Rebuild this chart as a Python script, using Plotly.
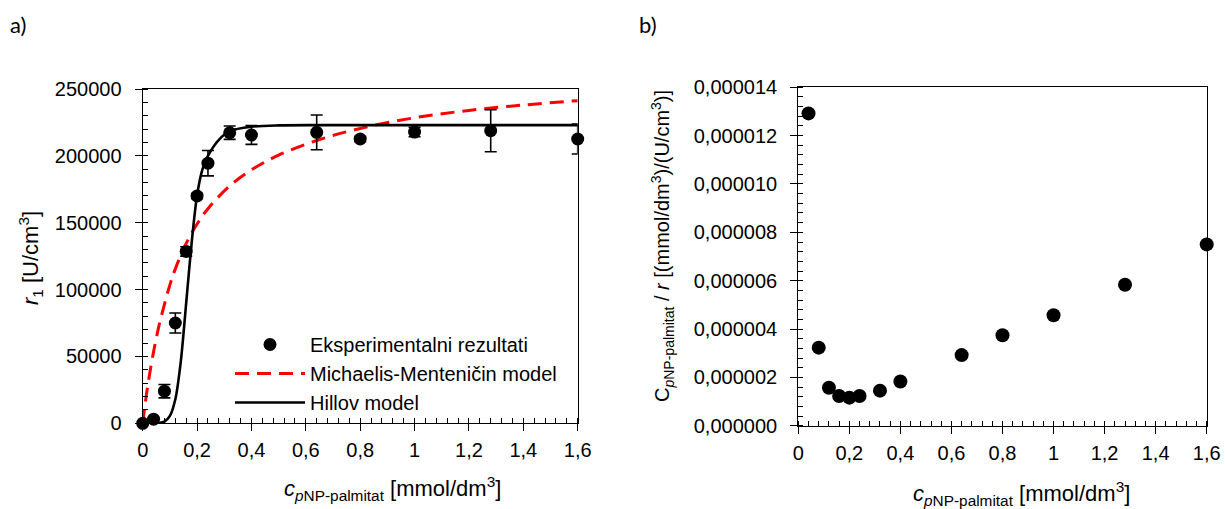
import plotly.graph_objects as go

# ---- data ----
c_exp = [0, 0.04, 0.08, 0.12, 0.16, 0.20, 0.24, 0.32, 0.40, 0.64, 0.80, 1.00, 1.28, 1.60]
r_exp = [0, 3100, 24000, 75000, 128500, 170000, 194500, 217300, 215600, 217600, 212600, 217800, 218800, 212600]
r_err = [0, 0, 5000, 7500, 3500, 2000, 9500, 5000, 7000, 13000, 2000, 3500, 15700, 11200]

mm_c = [0, 0.01, 0.02, 0.04, 0.06, 0.08, 0.10, 0.12, 0.16, 0.20, 0.24, 0.32, 0.40, 0.50, 0.64, 0.80, 1.00, 1.20, 1.40, 1.60]
mm_r = [0, 16000, 30000, 53500, 73000, 89000, 103500, 115500, 134500, 149000, 160500, 177500, 189500, 200500, 211500, 220500, 228500, 234000, 238000, 241300]

hill_c = [0, 0.04, 0.06, 0.08, 0.10, 0.12, 0.14, 0.16, 0.18, 0.20, 0.22, 0.24, 0.28, 0.32, 0.40, 0.50, 0.64, 0.80, 1.00, 1.20, 1.40, 1.60]
hill_r = [0, 50, 200, 1200, 5500, 18000, 46000, 90000, 135000, 170500, 190000, 200000, 212000, 218500, 221800, 222800, 223000, 223000, 223000, 223000, 223000, 223000]

c_b = [0.04, 0.08, 0.12, 0.16, 0.20, 0.24, 0.32, 0.40, 0.64, 0.80, 1.00, 1.28, 1.60]
ratio_b = [12.92e-6, 3.23e-6, 1.57e-6, 1.23e-6, 1.16e-6, 1.23e-6, 1.45e-6, 1.83e-6, 2.92e-6, 3.74e-6, 4.57e-6, 5.83e-6, 7.50e-6]

x_ticks = [0, 0.2, 0.4, 0.6, 0.8, 1.0, 1.2, 1.4, 1.6]

FONT = "Liberation Sans, Arial, sans-serif"
W, H = 1225, 509
TICK_SIZE = 20

fig = go.Figure()

fig.add_trace(go.Scatter(
    x=mm_c, y=mm_r, mode="lines", name="Michaelis-Menteničin model",
    line=dict(color="#ff0000", width=3, dash="14px,8px", shape="spline"),
    xaxis="x", yaxis="y", legendrank=2, cliponaxis=False))
fig.add_trace(go.Scatter(
    x=hill_c, y=hill_r, mode="lines", name="Hillov model",
    line=dict(color="black", width=2.6, shape="spline", smoothing=0.8),
    xaxis="x", yaxis="y", legendrank=3, cliponaxis=False))
fig.add_trace(go.Scatter(
    x=c_exp, y=r_exp, mode="markers", name="Eksperimentalni rezultati",
    marker=dict(color="black", size=13),
    error_y=dict(type="data", array=r_err, color="black", thickness=1.6, width=6),
    xaxis="x", yaxis="y", legendrank=1, cliponaxis=False))

fig.add_trace(go.Scatter(
    x=c_b, y=ratio_b, mode="markers", showlegend=False,
    marker=dict(color="black", size=14),
    xaxis="x2", yaxis="y2", cliponaxis=False))

def xaxis(domain, anchor):
    return dict(domain=domain, anchor=anchor, range=[0, 1.6], tickvals=x_ticks,
                showline=True, linecolor="black", linewidth=1.3, mirror=True,
                ticks="outside", ticklen=7, tickcolor="black", tickwidth=1.3,
                minor=dict(ticks="inside", dtick=0.04, ticklen=5, tickcolor="black", tickwidth=1),
                showgrid=False, zeroline=False, automargin=False, ticklabelstandoff=2,
                tickfont=dict(family=FONT, size=TICK_SIZE, color="black"))

lx = [142.7 / W, 577.7 / W]
ly = [1 - 423.3 / H, 1 - 89 / H]
rx = [798.3 / W, 1206.7 / W]
ry = [1 - 425.7 / H, 1 - 87.3 / H]

fig.update_layout(
    width=W, height=H, autosize=False, margin=dict(l=0, r=0, t=0, b=0, pad=0),
    paper_bgcolor="white", plot_bgcolor="white",
    separators=",.",
    font=dict(family=FONT, color="black"),
    xaxis=xaxis(lx, "y"),
    yaxis=dict(domain=ly, anchor="x", range=[0, 250000], dtick=50000, tickformat="d",
               showline=True, linecolor="black", linewidth=1.3, mirror=True,
               ticks="outside", ticklen=7, tickcolor="black", tickwidth=1.3,
               minor=dict(ticks="inside", dtick=10000, ticklen=5, tickcolor="black", tickwidth=1),
               showgrid=False, zeroline=False, ticklabelstandoff=9, automargin=False,
               tickfont=dict(family=FONT, size=TICK_SIZE, color="black")),
    xaxis2=xaxis(rx, "y2"),
    yaxis2=dict(domain=ry, anchor="x2", range=[0, 0.000014], dtick=0.000002, tickformat=".6f",
                showline=True, linecolor="black", linewidth=1.3, mirror=True,
                ticks="outside", ticklen=7, tickcolor="black", tickwidth=1.3,
                minor=dict(ticks="inside", dtick=0.0000004, ticklen=5, tickcolor="black", tickwidth=1),
                showgrid=False, zeroline=False, ticklabelstandoff=9, automargin=False,
                tickfont=dict(family=FONT, size=TICK_SIZE, color="black")),
    legend=dict(x=230 / W, y=1 - 325 / H, xanchor="left", yanchor="top",
                bgcolor="rgba(0,0,0,0)", itemwidth=70, tracegroupgap=0,
                font=dict(family=FONT, size=20, color="black")),
    showlegend=True,
)

ann = [
    dict(text="a)", x=8 / W, y=1 - 25 / H, xanchor="left", yanchor="middle",
         font=dict(family="Lato, Open Sans, sans-serif", size=22)),
    dict(text="b)", x=637 / W, y=1 - 25 / H, xanchor="left", yanchor="middle",
         font=dict(family="Lato, Open Sans, sans-serif", size=22)),
    dict(text="<i>r</i><sub>1</sub> [U/cm<sup>3</sup>]", x=30 / W, y=1 - 258 / H,
         textangle=-90, xanchor="center", yanchor="middle", font=dict(family=FONT, size=22)),
    dict(text="<i>c</i><sub><i>p</i>NP-palmitat</sub> [mmol/dm<sup>3</sup>]", x=392 / W, y=1 - 488 / H,
         xanchor="center", yanchor="middle", font=dict(family=FONT, size=22)),
    dict(text="C<sub><i>p</i>NP-palmitat</sub> / <i>r</i> [(mmol/dm<sup>3</sup>)/(U/cm<sup>3</sup>)]",
         x=662 / W, y=1 - 246 / H, textangle=-90, xanchor="center", yanchor="middle",
         font=dict(family=FONT, size=20)),
    dict(text="<i>c</i><sub><i>p</i>NP-palmitat</sub> [mmol/dm<sup>3</sup>]", x=1021 / W, y=1 - 493 / H,
         xanchor="center", yanchor="middle", font=dict(family=FONT, size=22)),
]
for a in ann:
    a.update(xref="paper", yref="paper", showarrow=False)
    a["font"]["color"] = "black"
fig.update_layout(annotations=ann)

post = ("document.documentElement.style.margin='0';document.documentElement.style.overflow='hidden';"
        "document.body.style.margin='0';document.body.style.overflow='hidden';")
fig.write_html("out.html", config={"displayModeBar": False}, post_script=post)
